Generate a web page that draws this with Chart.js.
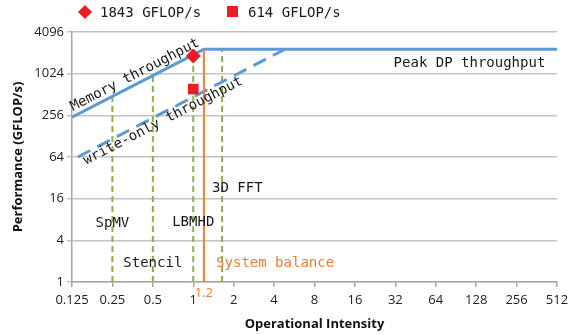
<!DOCTYPE html>
<html>
<head>
<meta charset="utf-8">
<script src="https://cdn.jsdelivr.net/npm/chart.js@4/dist/chart.umd.min.js"></script>
<style>
  html, body { margin: 0; padding: 0; background: #fff; }
  #wrap { position: relative; width: 574px; height: 335px; }
  #legend { position: absolute; top: 3px; left: 0; font: 14px "DejaVu Sans Mono", monospace; color: #1a1a1a; }
  .item { position: absolute; top: 0; white-space: nowrap; line-height: 18px; }
  .diamond { position: absolute; width: 10px; height: 10px; background: #ed1c24; transform: rotate(45deg); top: 4px; }
  .square { position: absolute; width: 11px; height: 11px; background: #ed1c24; top: 3px; }
</style>
</head>
<body>
<div id="wrap">
  <canvas id="roof" width="574" height="335"></canvas>
  <div id="legend">
    <div class="item" style="left:80px"><span class="diamond" style="left:0"></span><span style="position:absolute;left:20px">1843 GFLOP/s</span></div>
    <div class="item" style="left:227px"><span class="square" style="left:0"></span><span style="position:absolute;left:21px">614 GFLOP/s</span></div>
  </div>
</div>
<script>
// axis ticks
const xTicks = [0.125, 0.25, 0.5, 1, 2, 4, 8, 16, 32, 64, 128, 256, 512];
const yTicks = [1, 4, 16, 64, 256, 1024, 4096];

// rooflines
const memoryRoofX = [0.125, 1.2, 512];
const memoryRoofY = [240, 2300, 2300];
const writeOnlyX = [0.138, 4.8];
const writeOnlyY = [64, 2300];
const balanceX = 1.2;
const balanceY = [1, 2300];

// kernels: intensity and roof height at that intensity
const kernelX = [0.25, 0.5, 1, 1.64];
const kernelRoof = [480, 960, 1920, 2300];

// measured points
const measuredLabels = ['1843 GFLOP/s', '614 GFLOP/s'];
const measuredX = [1, 1];
const measuredY = [1843, 614];

const BLUE = '#5b9bd5';
const GREEN = '#8faf45';
const ORANGE = '#ed7d31';
const RED = '#ed1c24';
const MONO = '"DejaVu Sans Mono", monospace';
const SANS = '"Open Sans", sans-serif';

// text labels placed in data coordinates
const notes = [
  { text: 'SpMV', x: 0.25, y: 7.1, align: 'center' },
  { text: 'Stencil', x: 0.5, y: 1.88, align: 'center' },
  { text: 'LBMHD', x: 1, y: 7.3, align: 'center' },
  { text: '3D FFT', x: 1.38, y: 22.8, align: 'left' },
  { text: 'System balance', x: 1.48, y: 1.88, align: 'left', color: ORANGE },
  { text: 'Peak DP throughput', x: 419, y: 1460, align: 'right' }
];
const slanted = [
  { text: 'Memory throughput', x: 0.368, y: 981 },
  { text: 'write-only throughput', x: 0.596, y: 212 }
];

// lower order is drawn on top
const datasets = [];
kernelX.forEach((k, i) => {
  datasets.push({
    order: 5,
    data: [{ x: k, y: 1 }, { x: k, y: kernelRoof[i] }],
    borderColor: GREEN, borderWidth: 2, borderDash: [6, 4], pointRadius: 0
  });
});
datasets.push({
  order: 3,
  data: memoryRoofX.map((x, i) => ({ x, y: memoryRoofY[i] })),
  borderColor: BLUE, borderWidth: 3, pointRadius: 0
});
datasets.push({
  order: 4,
  data: writeOnlyX.map((x, i) => ({ x, y: writeOnlyY[i] })),
  borderColor: BLUE, borderWidth: 3, borderDash: [14, 8], pointRadius: 0
});
datasets.push({
  order: 2,
  data: balanceY.map(y => ({ x: balanceX, y })),
  borderColor: ORANGE, borderWidth: 2, pointRadius: 0
});
datasets.push({
  order: 1, label: measuredLabels[1], showLine: false,
  data: [{ x: measuredX[1], y: measuredY[1] }],
  pointStyle: 'rect', pointRadius: 7.5, backgroundColor: RED, borderColor: RED, borderWidth: 0
});
datasets.push({
  order: 0, label: measuredLabels[0], showLine: false,
  data: [{ x: measuredX[0], y: measuredY[0] }],
  pointStyle: 'rectRot', pointRadius: 7.5, backgroundColor: RED, borderColor: RED, borderWidth: 0
});

const annotate = {
  id: 'annotate',
  afterDatasetsDraw(chart) {
    const { ctx, scales: { x, y } } = chart;
    ctx.save();
    ctx.font = '14px ' + MONO;
    ctx.textBaseline = 'middle';
    notes.forEach(n => {
      ctx.fillStyle = n.color || '#1a1a1a';
      ctx.textAlign = n.align;
      ctx.fillText(n.text, x.getPixelForValue(n.x), y.getPixelForValue(n.y));
    });
    // slope of the memory roof in pixels
    const x0 = x.getPixelForValue(memoryRoofX[0]), y0 = y.getPixelForValue(memoryRoofY[0]);
    const x1 = x.getPixelForValue(memoryRoofX[1]), y1 = y.getPixelForValue(memoryRoofY[1]);
    const ang = Math.atan2(y1 - y0, x1 - x0);
    ctx.fillStyle = '#1a1a1a';
    ctx.textAlign = 'center';
    slanted.forEach(s => {
      ctx.save();
      ctx.translate(x.getPixelForValue(s.x), y.getPixelForValue(s.y));
      ctx.rotate(ang);
      ctx.fillText(s.text, 0, 0);
      ctx.restore();
    });
    // 1.2 under the axis
    ctx.font = '13px ' + SANS;
    ctx.fillStyle = ORANGE;
    ctx.textBaseline = 'top';
    ctx.fillText('1.2', x.getPixelForValue(balanceX), y.bottom + 5);
    ctx.restore();
  }
};

new Chart(document.getElementById('roof'), {
  type: 'line',
  data: { datasets },
  plugins: [annotate],
  options: {
    responsive: false,
    animation: false,
    layout: { padding: { top: 32, right: 17, left: 0, bottom: 0 } },
    plugins: { legend: { display: false }, tooltip: { enabled: false } },
    scales: {
      x: {
        type: 'logarithmic', min: 0.125, max: 512,
        afterBuildTicks: s => { s.ticks = xTicks.map(v => ({ value: v })); },
        afterFit: s => { s.height = 53; },
        ticks: { callback: v => String(v), color: '#222', font: { family: SANS, size: 13 }, padding: 5, maxRotation: 0, autoSkip: false },
        grid: { drawOnChartArea: false, drawTicks: true, tickLength: 5, color: '#a6a6a6', lineWidth: 1.5 },
        border: { color: '#a6a6a6', width: 1.5 },
        title: { display: true, text: 'Operational Intensity', color: '#111', font: { family: SANS, size: 13, weight: 'bold' }, padding: { top: 2, bottom: 3 } }
      },
      y: {
        type: 'logarithmic', min: 1, max: 4096,
        afterBuildTicks: s => { s.ticks = yTicks.map(v => ({ value: v })); },
        afterFit: s => { s.width = 72; },
        ticks: { callback: v => String(v), color: '#222', font: { family: SANS, size: 13 }, padding: 3, autoSkip: false },
        grid: { color: '#c3c3c3', lineWidth: 1.5, tickLength: 5 },
        border: { color: '#a6a6a6', width: 1.5 },
        title: { display: true, text: 'Performance (GFLOP/s)', color: '#111', font: { family: SANS, size: 13, weight: 'bold' }, padding: { top: 10, bottom: 2 } }
      }
    }
  }
});
</script>
</body>
</html>
